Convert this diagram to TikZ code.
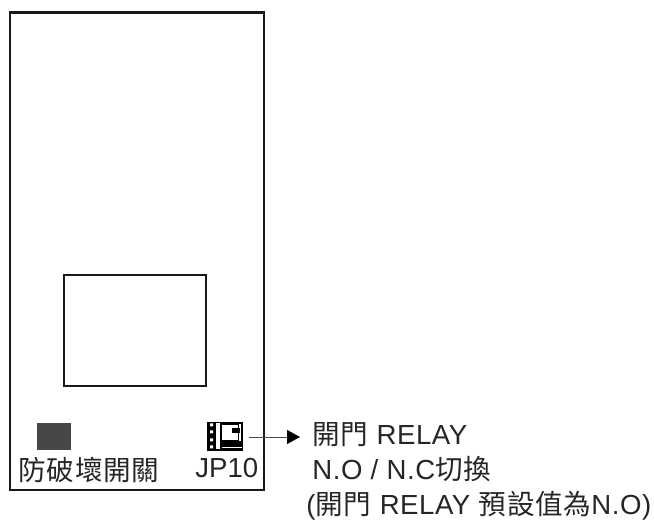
\documentclass[tikz,border=0pt]{standalone}
\usepackage{fontspec}
\setmainfont{Liberation Sans}
\newfontfamily\spaced[LetterSpace=2]{Liberation Sans}
\newfontfamily\cjk[LetterSpace=3]{Noto Sans CJK TC}
\newcommand{\cjktxt}[1]{{\cjk #1}}
\usetikzlibrary{arrows.meta}
\tikzset{
    board/.style={draw=black!90,line width=1.7pt,inner sep=0pt},
    label/.style={font=\fontsize{15.7}{18}\selectfont,inner sep=0pt,anchor=base west,text=black!85},
    note/.style={label,font=\fontsize{15.7}{18}\selectfont\spaced},
}
\begin{document}
\begin{tikzpicture}
    \useasboundingbox (0,0) rectangle (13.08,10.4);
    \node[board,minimum width=5.08cm,minimum height=9.54cm] (case) at (2.74,5.37) {};
    \node[draw=black!90,line width=0.8pt,minimum width=2.84cm,minimum height=2.22cm] (lcd) at (2.7,3.79) {};
    \node[fill=black!72,minimum width=0.68cm,minimum height=0.54cm,inner sep=0pt] (switch) at (1.08,1.67) {};
    \node[fill=black,minimum width=0.72cm,minimum height=0.58cm,inner sep=0pt] (jp) at (4.5,1.67) {};
    % jumper detail
    \fill[white] (4.32,1.42) rectangle (4.40,1.93);
    \fill[white] (4.44,1.6) rectangle (4.76,1.9);
    \fill[white] (4.78,1.58) rectangle (4.82,1.92);
    \fill[white] (4.44,1.43) rectangle (4.84,1.46);
    \fill[white] (4.2,1.87) rectangle (4.26,1.93) (4.2,1.73) rectangle (4.26,1.79) (4.2,1.57) rectangle (4.26,1.63) (4.2,1.43) rectangle (4.26,1.49);
    \fill[black] (4.64,1.74) rectangle (4.8,1.84);
    \node[label] (sw) at (0.36,0.78) {\cjktxt{防破壞開關}};
    \node[label] (jpname) at (3.9,0.84) {JP10};
    \coordinate (from) at (4.98,1.66);
    \draw[black!70,line width=0.5pt,-{Triangle[black,length=0.26cm,width=0.28cm]}] (from) -- (6.0,1.66);
    \node[note] (line1) at (6.24,1.5) {\cjktxt{開門} RELAY};
    \node[note] (line2) at (6.24,0.8) {N.O / N.C\cjktxt{切換}};
    \node[note] (line3) at (6.12,0.1) {(\cjktxt{開門} RELAY \cjktxt{預設值為}N.O)};
\end{tikzpicture}
\end{document}
